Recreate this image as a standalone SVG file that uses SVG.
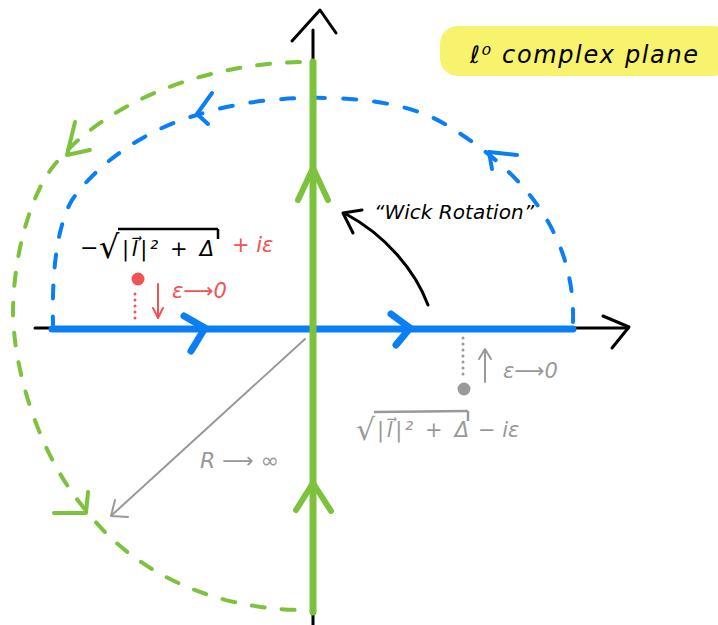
<svg xmlns="http://www.w3.org/2000/svg" width="718" height="625" viewBox="0 0 718 625">
<style>
.ax{fill:none;stroke:#000;stroke-width:3;stroke-linecap:round;stroke-linejoin:round}
.blue{fill:none;stroke:#0a7ef5;stroke-linecap:round;stroke-linejoin:round}
.green{fill:none;stroke:#7dc23c;stroke-linecap:round;stroke-linejoin:round}
.gray{fill:none;stroke:#999;stroke-width:2;stroke-linecap:round;stroke-linejoin:round}
.red{fill:none;stroke:#ef5353;stroke-width:2;stroke-linecap:round;stroke-linejoin:round}
.t{font-family:"DejaVu Sans",sans-serif;font-style:italic}
</style>
<rect width="718" height="625" fill="#fff"/>
<g id="label-plane">
<rect x="440" y="26" width="290" height="50" rx="18" fill="#f7f36c"/>
<text class="t" x="470" y="63" font-size="24" fill="#000" textLength="228">ℓ⁰ complex plane</text>
</g>
<g id="axes">
<line class="ax" x1="35" y1="328" x2="628" y2="328"/>
<polyline class="ax" points="603,316 629,327 612,348"/>
<line class="ax" x1="313" y1="30" x2="313" y2="625"/>
<polyline class="ax" points="292,41 320,10 336,33"/>
</g>
<g id="connectors">
<path id="blue-arc" class="blue" stroke-width="4" stroke-dasharray="13 18" d="M 573 322 C 575 250, 540 180, 443 123 C 405 101, 350 97, 305 98 C 260 99, 225 106, 197 115 C 150 128, 100 160, 72 200 C 55 230, 52 280, 53 325"/>
<polyline class="blue" stroke-width="4" points="212,93 197,114 208,124"/>
<polyline class="blue" stroke-width="4" points="492,169 489,152 517,155"/>
<path id="green-arc" class="green" stroke-width="4" stroke-dasharray="13 17" d="M 300 62 C 200 64, 100 105, 52 168 C 32 194, 14 250, 13 310 C 13 370, 40 460, 90 515 C 125 560, 200 612, 313 610"/>
<polyline class="green" stroke-width="4" points="75,122 67,155 90,150"/>
<polyline class="green" stroke-width="4" points="54,513 86,513 88,492"/>
<line class="blue" stroke-width="7" x1="52" y1="329" x2="573" y2="329"/>
<polyline class="blue" stroke-width="7" points="184,316 205,328 191,351"/>
<polyline class="blue" stroke-width="7" points="391,314 410,328 396,345"/>
<line class="green" stroke-width="7" x1="313" y1="62" x2="313" y2="612"/>
<polyline class="green" stroke-width="6" points="298,200 313,168 328,200"/>
<polyline class="green" stroke-width="6" points="296,510 313,483 331,511"/>
<path id="wick-arrow" class="ax" d="M 428 305 C 415 270, 385 235, 346 214"/>
<polyline class="ax" points="362,210 343,213 353,233"/>
<line class="gray" x1="305" y1="339" x2="112" y2="515"/>
<polyline class="gray" points="115,500 111,516 128,517"/>
</g>
<g id="label-wick">
<text class="t" x="374" y="219" font-size="20" fill="#000" textLength="160">“Wick Rotation”</text>
</g>
<g id="pole-upper">
<text class="t" x="80" y="255" font-size="22" fill="#000">−</text>
<text class="t" x="99" y="258" font-size="32" fill="#000">√</text>
<line x1="118" y1="229" x2="218" y2="229" stroke="#000" stroke-width="2.5"/>
<line x1="218" y1="229" x2="218" y2="239" stroke="#000" stroke-width="2.5"/>
<text class="t" x="122" y="256" font-size="21" fill="#000" textLength="92">|l⃗|² + Δ</text>
<text class="t" x="232" y="252" font-size="21" fill="#ef5353">+ iε</text>
<circle cx="138" cy="279" r="6.5" fill="#ef5353"/>
<line x1="135" y1="294" x2="135" y2="320" stroke="#ef5353" stroke-width="3" stroke-linecap="round" stroke-dasharray="0 6"/>
<line class="red" x1="158" y1="284" x2="158" y2="318"/>
<polyline class="red" points="153,308 158,318 163,308"/>
<text class="t" x="172" y="298" font-size="21" fill="#ef5353">ε⟶0</text>
</g>
<g id="pole-lower">
<circle cx="464" cy="389" r="6.5" fill="#999"/>
<line x1="463" y1="338" x2="463" y2="375" stroke="#999" stroke-width="3" stroke-linecap="round" stroke-dasharray="0 6"/>
<line class="gray" x1="485" y1="382" x2="485" y2="350"/>
<polyline class="gray" points="479,359 485,349 491,359"/>
<text class="t" x="503" y="378" font-size="21" fill="#999">ε⟶0</text>
<text class="t" x="356" y="440" font-size="30" fill="#999">√</text>
<line x1="374" y1="412" x2="468" y2="411" stroke="#999" stroke-width="2.5"/>
<line x1="468" y1="411" x2="468" y2="421" stroke="#999" stroke-width="2.5"/>
<text class="t" x="377" y="437" font-size="21" fill="#999" textLength="92">|l⃗|² + Δ</text>
<text class="t" x="478" y="437" font-size="21" fill="#999">− iε</text>
</g>
<g id="label-R">
<text class="t" x="200" y="468" font-size="22" fill="#999">R ⟶ ∞</text>
</g>
</svg>
